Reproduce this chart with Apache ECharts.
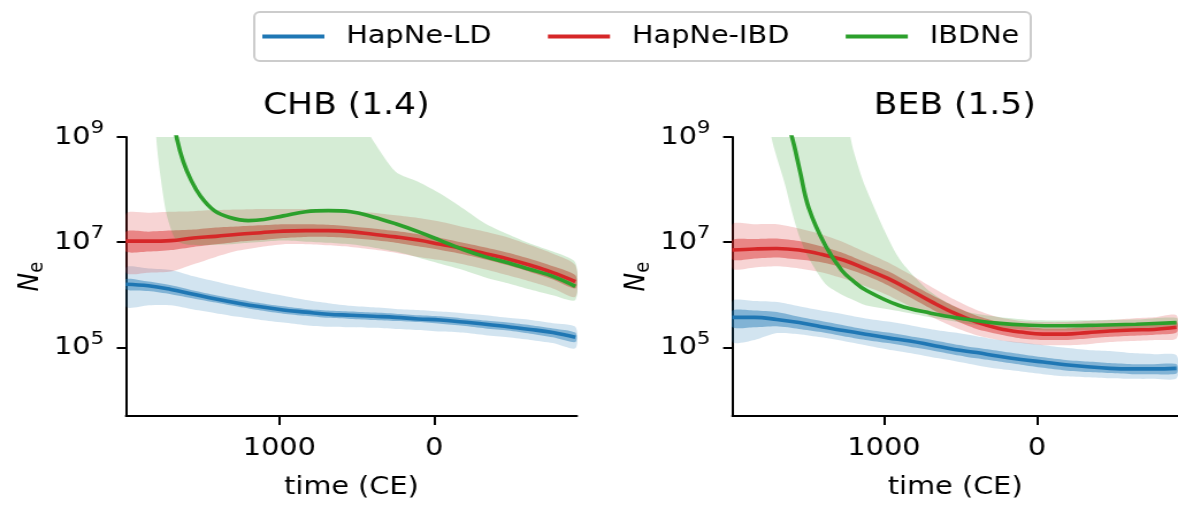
<!DOCTYPE html>
<html>
<head>
<meta charset="utf-8">
<script src="https://cdn.jsdelivr.net/npm/echarts@6.0.0/dist/echarts.min.js"></script>
<style>
  html, body { margin: 0; padding: 0; background: #ffffff; overflow: hidden; }
  body { width: 1178px; height: 505px; }
  /* figure is laid out on a 1024px-wide canvas and widened to the page */
  #chart { width: 1024px; height: 505px; transform: scaleX(1.15039); transform-origin: 0 0; }
</style>
</head>
<body>
<div id="chart"></div>
<script>
// Effective population size (log10 Ne) through time for two populations.
// HapNe curves carry two confidence bands (inner / outer), IBDNe one band.

const YEARS = [1990, 1845, 1700, 1555, 1410, 1265, 1120, 975, 830, 685, 540, 395, 250, 105, -40, -185, -330, -475, -620, -765, -910];

// ---- CHB ----
const chbLdMean    = [6.20, 6.17, 6.10, 6.01, 5.92, 5.84, 5.77, 5.71, 5.67, 5.63, 5.61, 5.59, 5.57, 5.54, 5.52, 5.48, 5.44, 5.39, 5.34, 5.28, 5.19];
const chbLdInnerHi = [6.30, 6.25, 6.18, 6.08, 5.99, 5.91, 5.84, 5.78, 5.73, 5.70, 5.68, 5.66, 5.64, 5.61, 5.59, 5.55, 5.51, 5.47, 5.42, 5.36, 5.28];
const chbLdInnerLo = [6.10, 6.07, 6.01, 5.93, 5.85, 5.77, 5.70, 5.64, 5.60, 5.56, 5.54, 5.52, 5.50, 5.48, 5.45, 5.41, 5.36, 5.32, 5.26, 5.19, 5.10];
const chbLdOuterHi = [6.52, 6.50, 6.47, 6.35, 6.25, 6.15, 6.06, 5.98, 5.90, 5.84, 5.79, 5.76, 5.73, 5.71, 5.68, 5.65, 5.61, 5.56, 5.52, 5.46, 5.39];
const chbLdOuterLo = [5.77, 5.80, 5.80, 5.72, 5.65, 5.58, 5.52, 5.47, 5.42, 5.39, 5.38, 5.37, 5.35, 5.33, 5.30, 5.28, 5.23, 5.19, 5.14, 5.08, 4.98];

const chbIbdMean    = [7.02, 7.02, 7.03, 7.08, 7.11, 7.15, 7.18, 7.21, 7.22, 7.22, 7.20, 7.15, 7.10, 7.04, 6.96, 6.88, 6.78, 6.68, 6.56, 6.42, 6.25];
const chbIbdInnerHi = [7.20, 7.20, 7.22, 7.24, 7.28, 7.30, 7.32, 7.34, 7.34, 7.33, 7.30, 7.26, 7.21, 7.15, 7.08, 6.99, 6.90, 6.80, 6.68, 6.54, 6.37];
const chbIbdInnerLo = [6.82, 6.82, 6.85, 6.91, 6.96, 7.01, 7.04, 7.08, 7.10, 7.10, 7.08, 7.04, 6.99, 6.92, 6.85, 6.77, 6.67, 6.56, 6.43, 6.29, 6.12];
const chbIbdOuterHi = [7.54, 7.56, 7.58, 7.59, 7.61, 7.62, 7.63, 7.63, 7.63, 7.62, 7.59, 7.56, 7.51, 7.46, 7.39, 7.29, 7.20, 7.09, 6.94, 6.78, 6.56];
const chbIbdOuterLo = [6.42, 6.42, 6.44, 6.58, 6.72, 6.84, 6.91, 6.96, 6.96, 6.94, 6.91, 6.86, 6.80, 6.72, 6.66, 6.58, 6.48, 6.37, 6.25, 6.12, 5.96];

const chbIbdneYears = [1795, 1770, 1730, 1690, 1660, 1620, 1570, 1510, 1420, 1320, 1200, 1100, 975, 830, 685, 540, 395, 250, 105, -40, -185, -330, -475, -620, -765, -910];
const chbIbdneMean  = [null, null, null, 9.45, 8.95, 8.53, 8.18, 7.88, 7.60, 7.47, 7.41, 7.43, 7.50, 7.58, 7.60, 7.58, 7.48, 7.35, 7.20, 7.03, 6.86, 6.72, 6.61, 6.48, 6.35, 6.16];
const chbIbdneHi    = [9.60, 9.60, 9.60, 9.60, 9.60, 9.60, 9.60, 9.60, 9.60, 9.60, 9.60, 9.60, 9.60, 9.60, 9.60, 9.60, 8.93, 8.34, 8.15, 7.92, 7.64, 7.35, 7.15, 6.97, 6.82, 6.61];
const chbIbdneLo    = [9.00, 8.31, 7.55, 7.17, 7.02, 6.97, 6.95, 6.94, 6.95, 6.96, 6.99, 7.01, 7.03, 7.01, 6.99, 6.96, 6.90, 6.82, 6.71, 6.59, 6.47, 6.33, 6.22, 6.10, 5.99, 5.90];

// ---- BEB ----
const bebLdMean    = [5.57, 5.57, 5.53, 5.47, 5.39, 5.32, 5.25, 5.18, 5.12, 5.04, 4.96, 4.90, 4.83, 4.77, 4.72, 4.67, 4.63, 4.60, 4.59, 4.59, 4.60];
const bebLdInnerHi = [5.70, 5.70, 5.67, 5.58, 5.50, 5.42, 5.34, 5.28, 5.21, 5.14, 5.06, 4.99, 4.93, 4.87, 4.81, 4.76, 4.73, 4.70, 4.68, 4.68, 4.68];
const bebLdInnerLo = [5.38, 5.38, 5.40, 5.35, 5.29, 5.21, 5.14, 5.08, 5.01, 4.94, 4.86, 4.79, 4.73, 4.67, 4.61, 4.56, 4.53, 4.51, 4.49, 4.49, 4.50];
const bebLdOuterHi = [5.88, 5.88, 5.86, 5.78, 5.70, 5.63, 5.55, 5.49, 5.42, 5.34, 5.28, 5.21, 5.14, 5.09, 5.04, 4.99, 4.95, 4.93, 4.89, 4.87, 4.85];
const bebLdOuterLo = [5.10, 5.14, 5.27, 5.25, 5.19, 5.12, 5.04, 4.96, 4.89, 4.81, 4.74, 4.66, 4.59, 4.54, 4.49, 4.45, 4.43, 4.41, 4.40, 4.40, 4.41];

const bebIbdMean    = [6.85, 6.87, 6.88, 6.85, 6.77, 6.66, 6.49, 6.31, 6.09, 5.86, 5.65, 5.48, 5.36, 5.29, 5.25, 5.25, 5.28, 5.31, 5.33, 5.34, 5.38];
const bebIbdInnerHi = [7.04, 7.06, 7.07, 7.02, 6.92, 6.79, 6.62, 6.45, 6.22, 5.99, 5.78, 5.60, 5.48, 5.40, 5.36, 5.36, 5.38, 5.41, 5.43, 5.45, 5.49];
const bebIbdInnerLo = [6.67, 6.69, 6.71, 6.67, 6.62, 6.52, 6.37, 6.18, 5.95, 5.72, 5.52, 5.35, 5.25, 5.17, 5.14, 5.14, 5.17, 5.20, 5.22, 5.24, 5.28];
const bebIbdOuterHi = [7.34, 7.34, 7.34, 7.26, 7.15, 7.00, 6.81, 6.62, 6.39, 6.14, 5.91, 5.71, 5.57, 5.50, 5.48, 5.48, 5.50, 5.52, 5.55, 5.57, 5.61];
const bebIbdOuterLo = [6.50, 6.52, 6.54, 6.50, 6.43, 6.31, 6.16, 5.99, 5.78, 5.57, 5.38, 5.23, 5.14, 5.08, 5.04, 5.04, 5.06, 5.10, 5.12, 5.14, 5.17];

const bebIbdneYears = [1735, 1650, 1600, 1550, 1490, 1380, 1275, 1200, 1120, 905, 695, 475, 260, 50, -170, -385, -645, -910];
const bebIbdneMean  = [null, 9.41, 8.99, 8.37, 7.64, 6.92, 6.46, 6.26, 6.09, 5.80, 5.65, 5.54, 5.46, 5.42, 5.41, 5.42, 5.44, 5.47];
const bebIbdneHi    = [9.60, 9.60, 9.60, 9.60, 9.60, 9.60, 9.60, 8.75, 8.04, 6.71, 6.05, 5.69, 5.58, 5.52, 5.51, 5.52, 5.53, 5.56];
const bebIbdneLo    = [9.00, 8.14, 7.57, 7.09, 6.69, 6.20, 6.00, 5.90, 5.80, 5.69, 5.57, 5.46, 5.38, 5.33, 5.32, 5.33, 5.35, 5.38];

// ---- axes / labels ----
const PANEL_TITLES = ['CHB (1.4)', 'BEB (1.5)'];
const SERIES_NAMES = ['HapNe-LD', 'HapNe-IBD', 'IBDNe'];
const X_TICKS = [1000, 0];
const Y_TICKS = [1e5, 1e7, 1e9];
const X_MIN = -920, X_MAX = 1990;
const Y_MIN = 4940, Y_MAX = 1e9;

const FONT = 'DejaVu Sans';
const BLUE = '#1f77b4', RED = '#d62728', GREEN = '#2ca02c';

function rgba(hex, a) {
  const n = parseInt(hex.slice(1), 16);
  return 'rgba(' + (n >> 16) + ',' + ((n >> 8) & 255) + ',' + (n & 255) + ',' + a + ')';
}

const panels = [
  {
    ld:  { mean: chbLdMean, inner: [chbLdInnerLo, chbLdInnerHi], outer: [chbLdOuterLo, chbLdOuterHi] },
    ibd: { mean: chbIbdMean, inner: [chbIbdInnerLo, chbIbdInnerHi], outer: [chbIbdOuterLo, chbIbdOuterHi] },
    ibdne: { years: chbIbdneYears, mean: chbIbdneMean, band: [chbIbdneLo, chbIbdneHi] }
  },
  {
    ld:  { mean: bebLdMean, inner: [bebLdInnerLo, bebLdInnerHi], outer: [bebLdOuterLo, bebLdOuterHi] },
    ibd: { mean: bebIbdMean, inner: [bebIbdInnerLo, bebIbdInnerHi], outer: [bebIbdOuterLo, bebIbdOuterHi] },
    ibdne: { years: bebIbdneYears, mean: bebIbdneMean, band: [bebIbdneLo, bebIbdneHi] }
  }
];

// Shaded interval between two log10 curves, drawn through the axis scales.
function bandSeries(g, years, lo, hi, fill) {
  return {
    type: 'custom',
    xAxisIndex: g, yAxisIndex: g,
    clip: true, silent: true,
    data: [[years[0], Math.pow(10, lo[0])]],
    renderItem: function (params, api) {
      const pts = [];
      for (let i = 0; i < years.length; i++) pts.push(api.coord([years[i], Math.pow(10, hi[i])]));
      for (let i = years.length - 1; i >= 0; i--) pts.push(api.coord([years[i], Math.pow(10, lo[i])]));
      return { type: 'polygon', shape: { points: pts, smooth: 0.25 }, style: { fill: fill } };
    }
  };
}

function lineSeries(g, name, years, logs, color) {
  const data = [];
  for (let i = 0; i < years.length; i++) {
    if (logs[i] !== null) data.push([years[i], Math.pow(10, logs[i])]);
  }
  return {
    type: 'line', name: name,
    xAxisIndex: g, yAxisIndex: g,
    data: data, symbol: 'none', showSymbol: false,
    smooth: 0.4, clip: true,
    lineStyle: { color: color, width: 3.6 },
    itemStyle: { color: color },
    emphasis: { disabled: true }
  };
}

const series = [];
panels.forEach(function (p, g) {
  series.push(bandSeries(g, YEARS, p.ld.outer[0], p.ld.outer[1], rgba(BLUE, 0.2)));
  series.push(bandSeries(g, YEARS, p.ld.inner[0], p.ld.inner[1], rgba(BLUE, 0.45)));
  series.push(bandSeries(g, YEARS, p.ibd.outer[0], p.ibd.outer[1], rgba(RED, 0.2)));
  series.push(bandSeries(g, YEARS, p.ibd.inner[0], p.ibd.inner[1], rgba(RED, 0.45)));
  series.push(bandSeries(g, p.ibdne.years, p.ibdne.band[0], p.ibdne.band[1], rgba(GREEN, 0.2)));
});
panels.forEach(function (p, g) {
  series.push(lineSeries(g, SERIES_NAMES[0], YEARS, p.ld.mean, BLUE));
  series.push(lineSeries(g, SERIES_NAMES[1], YEARS, p.ibd.mean, RED));
  series.push(lineSeries(g, SERIES_NAMES[2], p.ibdne.years, p.ibdne.mean, GREEN));
});

const axisLineStyle = { color: '#000', width: 2 };

function xAxisFor(g) {
  return {
    type: 'value', gridIndex: g, inverse: true, min: X_MIN, max: X_MAX,
    name: 'time (CE)', nameLocation: 'middle', nameGap: 59,
    nameTextStyle: { fontSize: 25, color: '#000', fontFamily: FONT },
    axisLine: { show: true, onZero: false, lineStyle: axisLineStyle },
    axisTick: { show: true, length: 9, lineStyle: axisLineStyle, customValues: X_TICKS },
    axisLabel: { margin: 20, fontSize: 25, color: '#000', fontFamily: FONT,
                 customValues: X_TICKS, formatter: function (v) { return String(v); } },
    splitLine: { show: false }
  };
}

function yAxisFor(g) {
  return {
    type: 'log', logBase: 10, gridIndex: g, min: Y_MIN, max: Y_MAX,
    name: '{n|N}{s|e}', nameLocation: 'middle', nameRotate: 90, nameGap: 68,
    nameTextStyle: {
      color: '#000',
      rich: {
        n: { fontSize: 25, fontStyle: 'italic', fontFamily: FONT, color: '#000', lineHeight: 30 },
        s: { fontSize: 18, fontFamily: FONT, color: '#000', verticalAlign: 'bottom', lineHeight: 18 }
      }
    },
    axisLine: { show: true, onZero: false, lineStyle: axisLineStyle },
    axisTick: { show: true, length: 8, lineStyle: axisLineStyle, customValues: Y_TICKS },
    axisLabel: {
      margin: 19, customValues: Y_TICKS,
      formatter: function (v) { return '{b|10}{s|' + Math.round(Math.log10(v)) + '}'; },
      rich: {
        b: { fontSize: 25, fontFamily: FONT, color: '#000', lineHeight: 36 },
        s: { fontSize: 18.5, fontFamily: FONT, color: '#000', verticalAlign: 'top', lineHeight: 18 }
      }
    },
    splitLine: { show: false },
    minorTick: { show: false }
  };
}

const chart = echarts.init(document.getElementById('chart'), null, { renderer: 'canvas', width: 1024, height: 505 });
chart.setOption({
  animation: false,
  backgroundColor: '#ffffff',
  textStyle: { fontFamily: FONT },
  title: [
    { text: PANEL_TITLES[0], left: 296, top: 86, textAlign: 'center',
      textStyle: { fontSize: 30, fontWeight: 'normal', fontFamily: FONT, color: '#000' } },
    { text: PANEL_TITLES[1], left: 825, top: 86, textAlign: 'center',
      textStyle: { fontSize: 30, fontWeight: 'normal', fontFamily: FONT, color: '#000' } }
  ],
  legend: {
    data: SERIES_NAMES,
    left: 221, top: 12,
    icon: 'rect', itemWidth: 54, itemHeight: 4, itemGap: 49,
    padding: [12, 10, 12, 7],
    borderColor: '#cccccc', borderWidth: 2, borderRadius: 5,
    textStyle: { fontSize: 25, fontFamily: FONT, color: '#000', padding: [0, 0, 0, 14] }
  },
  grid: [
    { left: 109.5, top: 137, width: 392, height: 279 },
    { left: 636.6, top: 137, width: 392, height: 279 }
  ],
  xAxis: [xAxisFor(0), xAxisFor(1)],
  yAxis: [yAxisFor(0), yAxisFor(1)],
  series: series
});
</script>
</body>
</html>
